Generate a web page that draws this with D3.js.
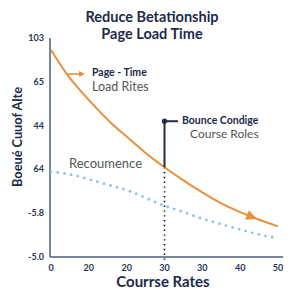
<!DOCTYPE html>
<html><head><meta charset="utf-8">
<script src="https://cdn.jsdelivr.net/npm/d3@7"></script>
<style>html,body{margin:0;padding:0;background:#fff;}svg{display:block;font-family:Lato,"Open Sans",sans-serif;}</style>
</head><body>
<svg id="c" width="300" height="300"></svg>
<script>
const titleLines = ["Reduce Betationship", "Page Load Time"];
const xTitle = "Courrse Rates";
const yTitle = "Boeué Cuuof Alte";
const xTickVals = [0, 10, 20, 30, 40, 50, 60];
const xTickLabels = ["0", "20", "20", "30", "30", "40", "50"];
const yTickVals = [0, 20, 40, 60, 80, 100];
const yTickLabels = ["-5.0", "-5.8", "64", "44", "65", "103"];
const xs = [0, 4, 8, 12, 16, 20, 25, 30, 35, 40, 45, 50, 55, 60];
const pageLoad = [94.5, 84, 75.5, 68, 61, 55, 47.5, 41, 35, 29.5, 24.5, 20.5, 17, 14];
const recurrence = [39, 38, 36.5, 34.5, 32.5, 30.5, 27, 23.4, 20.5, 17.5, 15, 12.5, 10.3, 8.5];
const markerX = 30;
const markerY = 62;

const svg = d3.select("#c");
const x = d3.scaleLinear().domain([0, 60]).range([51, 278]);
const y = d3.scaleLinear().domain([0, 100]).range([257, 38]);
const navy = "#1d2a4a", axisC = "#4a5b78", orange = "#e8903c", blue = "#8cc3dc", gray = "#555";

// title
svg.selectAll(".t").data(titleLines).join("text")
  .attr("x", 152).attr("y", (d, i) => 22 + i * 16.5)
  .attr("text-anchor", "middle").attr("font-size", 14.5).attr("font-weight", 700)
  .attr("fill", navy).text(d => d);

// axes lines
svg.append("line").attr("x1", 50).attr("x2", 50).attr("y1", y(100)).attr("y2", y(0))
  .attr("stroke", axisC).attr("stroke-width", 1.5);
svg.append("line").attr("x1", 50).attr("x2", 283).attr("y1", y(0)).attr("y2", y(0))
  .attr("stroke", axisC).attr("stroke-width", 1.5);

// tick labels
svg.selectAll(".yt").data(yTickVals).join("text")
  .attr("x", 44).attr("y", d => y(d) + 3).attr("text-anchor", "end")
  .attr("font-size", 9).attr("font-weight", 700).attr("fill", "#2a3550")
  .text((d, i) => yTickLabels[i]);
svg.selectAll(".xt").data(xTickVals).join("text")
  .attr("x", d => x(d)).attr("y", 271).attr("text-anchor", "middle")
  .attr("font-size", 9).attr("font-weight", 700).attr("fill", "#2a3550")
  .text((d, i) => xTickLabels[i]);

// axis titles
svg.append("text").attr("x", 163).attr("y", 287).attr("text-anchor", "middle")
  .attr("font-size", 15).attr("font-weight", 700).attr("fill", navy).text(xTitle);
svg.append("text").attr("transform", "translate(22,137) rotate(-90)").attr("text-anchor", "middle")
  .attr("font-size", 14).attr("font-weight", 700).attr("fill", navy)
  .attr("textLength", 100).attr("lengthAdjust", "spacingAndGlyphs").text(yTitle);

// recurrence dotted line
const line = d3.line().x((d, i) => x(xs[i])).y(d => y(d)).curve(d3.curveMonotoneX);
svg.append("path").attr("d", line(recurrence)).attr("fill", "none")
  .attr("stroke", blue).attr("stroke-width", 2.8).attr("stroke-linecap", "round")
  .attr("stroke-dasharray", "0 6.8");

// vertical dotted black line
svg.append("line").attr("x1", x(markerX)).attr("x2", x(markerX))
  .attr("y1", y(41)).attr("y2", 262)
  .attr("stroke", "#111").attr("stroke-width", 1.6).attr("stroke-dasharray", "1.4 3.4");

// page load curve
const pl = svg.append("path").attr("d", line(pageLoad)).attr("fill", "none")
  .attr("stroke", orange).attr("stroke-width", 2);
const node = pl.node(), L = node.getTotalLength();
const tip = node.getPointAtLength(L - 22), back = node.getPointAtLength(L - 33);
const ang = Math.atan2(tip.y - back.y, tip.x - back.x) * 180 / Math.PI;
svg.append("path").attr("d", "M0,0 L-11,-5 L-11,5 Z").attr("fill", orange)
  .attr("transform", `translate(${tip.x},${tip.y}) rotate(${ang})`);

// small orange pointer arrow to label
svg.append("line").attr("x1", 67).attr("x2", 82).attr("y1", 74).attr("y2", 74)
  .attr("stroke", orange).attr("stroke-width", 1.6);
svg.append("path").attr("d", "M85,74 L79,71 L79,77 Z").attr("fill", orange);

// marker annotation
svg.append("line").attr("x1", x(markerX)).attr("x2", x(markerX)).attr("y1", y(markerY)).attr("y2", y(41))
  .attr("stroke", navy).attr("stroke-width", 2);
svg.append("line").attr("x1", x(markerX)).attr("x2", 178).attr("y1", y(markerY)).attr("y2", y(markerY))
  .attr("stroke", navy).attr("stroke-width", 2);
svg.append("circle").attr("cx", x(markerX)).attr("cy", y(markerY)).attr("r", 2.6).attr("fill", navy);

// labels
function lbl(tx, ty, t, sz, w, c) {
  svg.append("text").attr("x", tx).attr("y", ty).attr("font-size", sz).attr("font-weight", w).attr("fill", c).text(t);
}
lbl(92, 76, "Page - Time", 10.5, 700, navy);
lbl(92, 91, "Load Rites", 12.5, 400, gray);
lbl(182, 123.5, "Bounce Condige", 10.5, 700, navy);
lbl(190, 137.5, "Course Roles", 12, 400, gray);
lbl(69, 168, "Recoumence", 13, 400, gray);
</script>
</body></html>
